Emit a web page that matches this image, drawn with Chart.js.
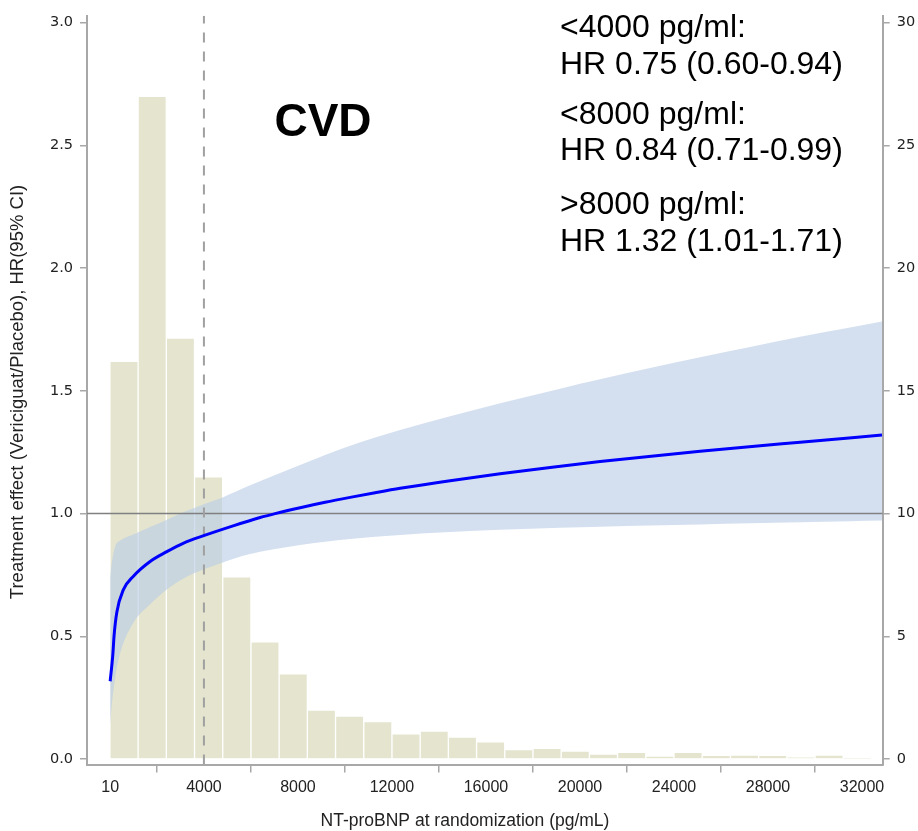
<!DOCTYPE html>
<html><head><meta charset="utf-8">
<script src="https://cdn.jsdelivr.net/npm/chart.js@4.4.1/dist/chart.umd.min.js"></script>
<style>html,body{margin:0;padding:0;background:#fff}canvas{display:block}</style>
</head><body>
<canvas id="c" width="918" height="831" style="width:918px;height:831px"></canvas>
<script>
// ---- data ----
const binMid = [600,1800,3000,4200,5400,6600,7800,9000,10200,11400,12600,13800,15000,16200,17400,18600,19800,21000,22200,23400,24600,25800,27000,28200,29400,30600,31800];
const binPct = [16.2,27.0,17.15,11.5,7.42,4.78,3.47,2.0,1.75,1.53,1.03,1.14,0.9,0.70,0.39,0.44,0.33,0.2,0.28,0.12,0.28,0.15,0.16,0.15,0.08,0.16,0.03];

const curveX  = [10,123,179,294,574,1000,1710,2421,3115,4051,5242,6391,7029,8093,9157,10220,11284,12348,14475,16603,18730,20858,25113,29368,32850];
const curveHR = [0.317,0.425,0.505,0.598,0.69,0.745,0.805,0.845,0.879,0.912,0.950,0.984,1.0,1.024,1.046,1.066,1.085,1.103,1.134,1.162,1.188,1.212,1.254,1.291,1.320];

const bandX     = [10,80,221,434,1000,1710,2421,3115,4051,4774,5966,8093,10220,12348,14475,16603,19156,20858,22986,25113,27241,29368,31496,32850];
const bandUpper = [0.74,0.80,0.865,0.89,0.915,0.945,0.975,1.005,1.04,1.065,1.115,1.198,1.276,1.34,1.396,1.449,1.509,1.547,1.593,1.637,1.679,1.72,1.758,1.782];
const bandLower = [0.14,0.22,0.33,0.43,0.555,0.631,0.691,0.735,0.775,0.80,0.835,0.872,0.897,0.913,0.925,0.934,0.942,0.946,0.951,0.956,0.961,0.965,0.969,0.972];

const xTicks  = [10,4000,8000,12000,16000,20000,24000,28000,32000];
const yTicks  = [0,0.5,1.0,1.5,2.0,2.5,3.0];
const y2Ticks = [0,5,10,15,20,25,30];
const refHR = 1.0;
const cutoff = 4000;

const labelLines = ['<4000 pg/ml:','HR 0.75 (0.60-0.94)','<8000 pg/ml:','HR 0.84 (0.71-0.99)','>8000 pg/ml:','HR 1.32 (1.01-1.71)'];
const panelTitle = 'CVD';
const xTitle = 'NT-proBNP at randomization (pg/mL)';
const yTitle = 'Treatment effect (Vericiguat/Placebo), HR(95% CI)';

// ---- axis bounds ----
const X_MIN = -975, X_MAX = 32880;
const Y_MIN = -0.022, Y_MAX = 3.028;

const pts = (xs, ys) => xs.map((x, i) => ({x, y: ys[i]}));

const AXIS = '#a8a8a8';
const TICKFONT = {family: "'DejaVu Sans', sans-serif", size: 14.5};
const XTICKFONT = {family: "'Liberation Sans', sans-serif", size: 16};

const textPlugin = {
  id: 'texts',
  afterDraw(chart) {
    const ctx = chart.ctx;
    ctx.save();
    ctx.fillStyle = '#000';
    ctx.textBaseline = 'alphabetic';
    ctx.textAlign = 'center';
    ctx.font = "bold 46px 'Liberation Sans', sans-serif";
    ctx.fillText(panelTitle, 323, 136);
    ctx.textAlign = 'left';
    ctx.font = "32px 'Liberation Sans', sans-serif";
    const base = [36.5, 74, 123.5, 160, 213.5, 250.5];
    labelLines.forEach((t, i) => ctx.fillText(t, 560, base[i]));
    // axis titles
    ctx.fillStyle = '#222';
    ctx.textAlign = 'center';
    ctx.textBaseline = 'middle';
    ctx.font = "17.5px 'Liberation Sans', sans-serif";
    ctx.fillText(xTitle, 465, 821);
    ctx.translate(18, 392);
    ctx.rotate(-Math.PI / 2);
    ctx.font = "18.5px 'Liberation Sans', sans-serif";
    ctx.fillText(yTitle, 0, 0);
    ctx.restore();
  }
};

new Chart(document.getElementById('c'), {
  data: {
    datasets: [
      {type: 'bar', label: 'hist', yAxisID: 'y2', xAxisID: 'x', data: pts(binMid, binPct),
       backgroundColor: '#e5e5cf', borderColor: '#ffffff', borderWidth: 1, borderSkipped: 'bottom',
       barPercentage: 1, categoryPercentage: 1, order: 10},
      {type: 'line', label: 'upper', yAxisID: 'y', data: pts(bandX, bandUpper), borderWidth: 0, pointRadius: 0,
       backgroundColor: 'rgba(183,204,230,0.6)', fill: '+1', cubicInterpolationMode: 'monotone', order: 5},
      {type: 'line', label: 'lower', yAxisID: 'y', data: pts(bandX, bandLower), borderWidth: 0, pointRadius: 0,
       fill: false, cubicInterpolationMode: 'monotone', order: 6},
      {type: 'line', label: 'ref', yAxisID: 'y', data: [{x: X_MIN, y: refHR}, {x: X_MAX, y: refHR}],
       borderColor: '#808080', borderWidth: 1.5, pointRadius: 0, fill: false, order: 3},
      {type: 'line', label: 'cut', yAxisID: 'y', data: [{x: cutoff, y: Y_MIN}, {x: cutoff, y: Y_MAX}],
       borderColor: '#a0a0a0', borderWidth: 2, borderDash: [10, 9], pointRadius: 0, fill: false, order: 2},
      {type: 'line', label: 'HR', yAxisID: 'y', data: pts(curveX, curveHR), borderColor: '#0000ff',
       borderWidth: 3, pointRadius: 0, fill: false, cubicInterpolationMode: 'monotone', order: 1}
    ]
  },
  options: {
    responsive: false, animation: false, devicePixelRatio: 1,
    layout: {padding: 0},
    plugins: {legend: {display: false}, tooltip: {enabled: false}},
    scales: {
      x: {type: 'linear', position: 'bottom', min: X_MIN, max: X_MAX, offset: false,
          afterBuildTicks: s => { s.ticks = xTicks.map(v => ({value: v})); },
          afterFit: s => { s.height = 66.5; },
          ticks: {callback: v => String(v), color: '#222', font: XTICKFONT, padding: 5, maxRotation: 0, autoSkip: false},
          grid: {drawOnChartArea: false, drawTicks: true, tickLength: 8, color: AXIS, lineWidth: 1.5},
          border: {display: true, color: AXIS, width: 2},
          title: {display: false}},
      y: {type: 'linear', position: 'left', min: Y_MIN, max: Y_MAX,
          afterBuildTicks: s => { s.ticks = yTicks.map(v => ({value: v})); },
          afterFit: s => { s.width = 87; },
          ticks: {callback: v => v.toFixed(1), color: '#222', font: TICKFONT, padding: 7},
          grid: {drawOnChartArea: false, drawTicks: true, tickLength: 7, color: AXIS, lineWidth: 1.5},
          border: {display: true, color: AXIS, width: 2},
          title: {display: false}},
      y2: {type: 'linear', position: 'right', min: Y_MIN * 10, max: Y_MAX * 10,
          afterBuildTicks: s => { s.ticks = y2Ticks.map(v => ({value: v})); },
          afterFit: s => { s.width = 35.3; },
          ticks: {callback: v => String(v), color: '#222', font: TICKFONT, padding: 7},
          grid: {drawOnChartArea: false, drawTicks: true, tickLength: 7, color: AXIS, lineWidth: 1.5},
          border: {display: true, color: AXIS, width: 2}}
    }
  },
  plugins: [textPlugin]
});
</script>
</body></html>
